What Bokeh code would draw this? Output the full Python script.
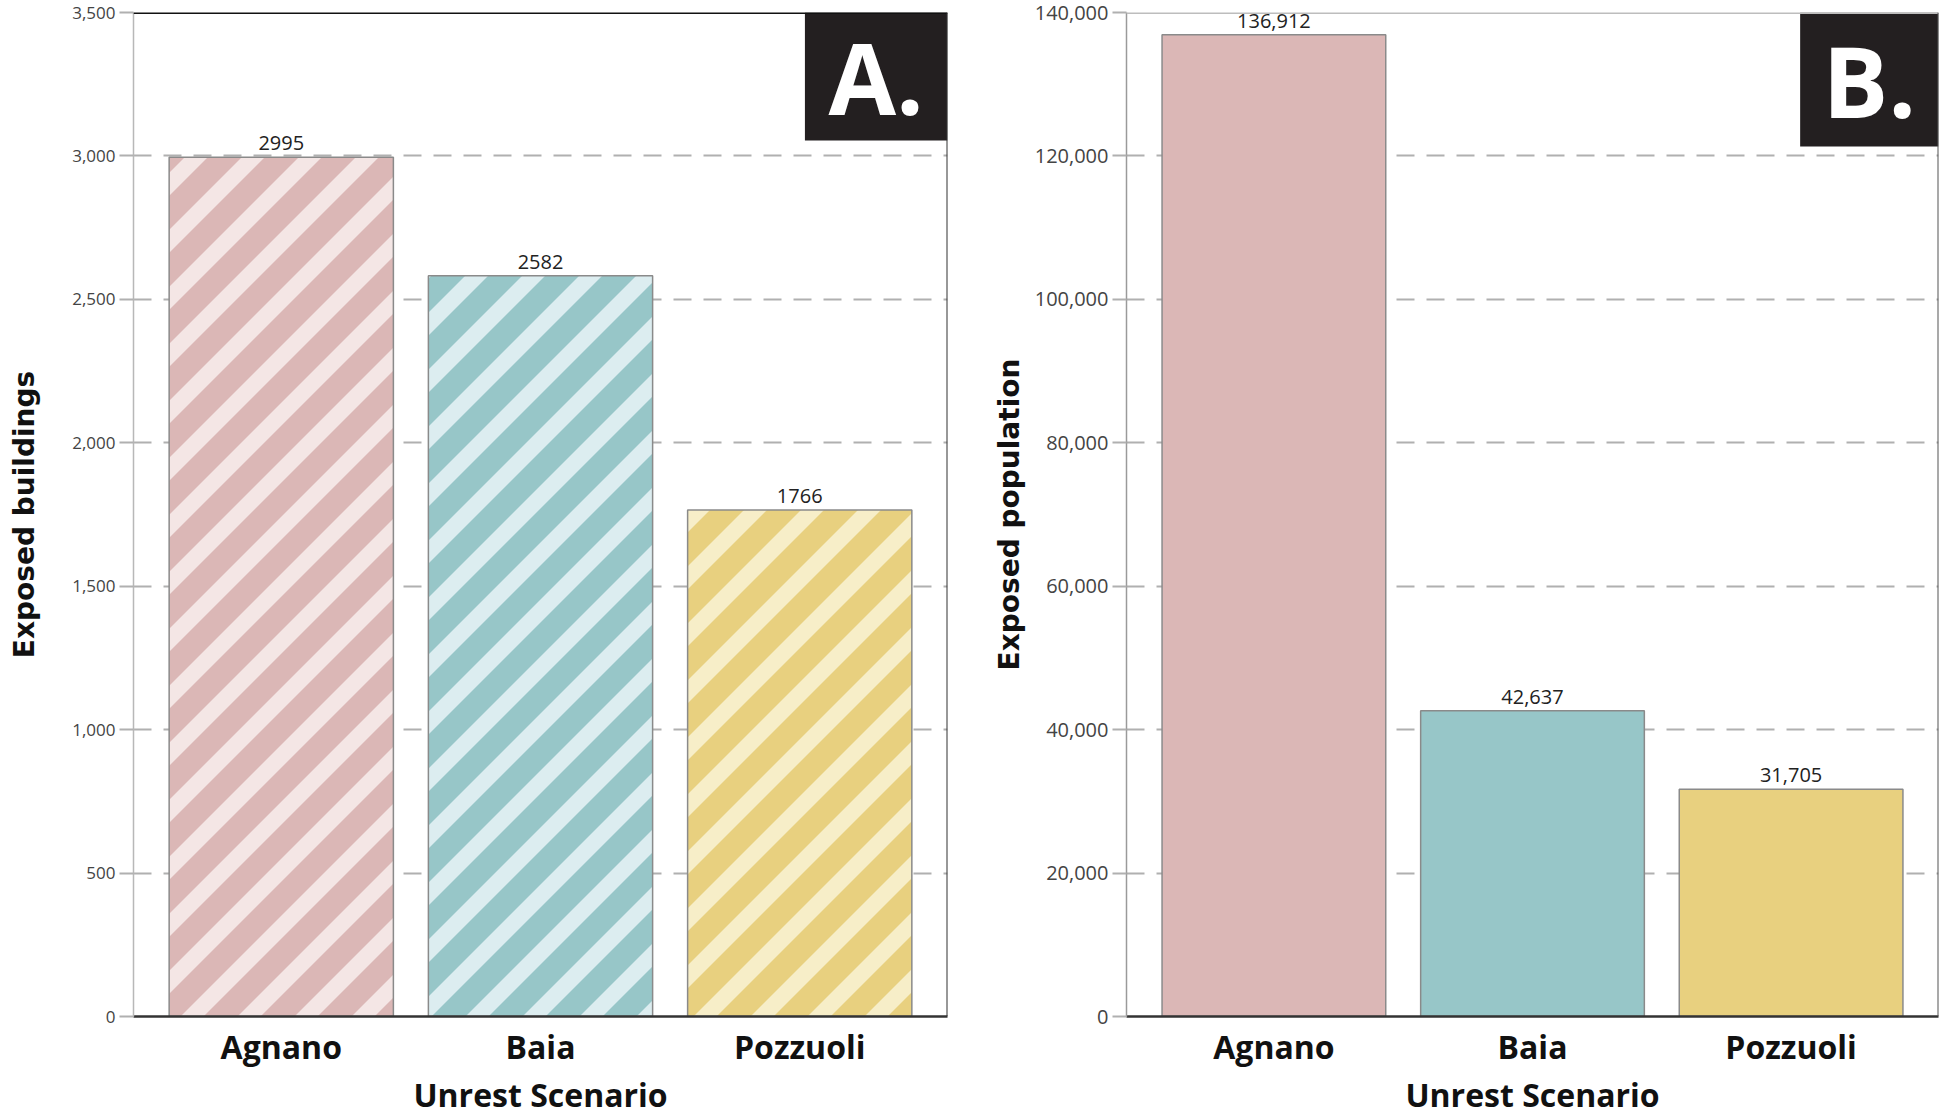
import base64
from bokeh.plotting import figure
from bokeh.models import (ColumnDataSource, FactorRange, Range1d, FixedTicker,
                          NumeralTickFormatter, Span, ImageURLTexture)
from bokeh.layouts import row
from bokeh.embed import file_html
from bokeh.resources import INLINE
from bokeh.core.properties import value

# ---- data ----
scenarios = ["Agnano", "Baia", "Pozzuoli"]
buildings = [2995, 2582, 1766]
population = [136912, 42637, 31705]
building_ticks = [0, 500, 1000, 1500, 2000, 2500, 3000, 3500]
population_ticks = [0, 20000, 40000, 60000, 80000, 100000, 120000, 140000]
building_labels = [str(v) for v in buildings]
population_labels = [f"{v:,}" for v in population]

bar_colors = ["#dbb7b6", "#97c6c8", "#e8d07f"]
stripe_colors = ["#f4e6e5", "#dcedf0", "#f7eec8"]
pattern_names = ["stripe_pink", "stripe_teal", "stripe_yellow"]

PAD = 0.07  # factor padding on each side


def stripe_texture(base, stripe):
    svg = ('<svg xmlns="http://www.w3.org/2000/svg" width="57" height="57">'
           f'<rect width="57" height="57" fill="{base}"/>'
           f'<polygon points="0,0 23,0 0,23" fill="{stripe}"/>'
           f'<polygon points="57,0 57,23 23,57 0,57" fill="{stripe}"/>'
           '</svg>')
    url = "data:image/svg+xml;base64," + base64.b64encode(svg.encode()).decode()
    return ImageURLTexture(url=url)


def make_panel(vals, labels, ticks, ytitle, letter, hatched, width,
               min_left, min_right, box_w, box_h_frac, tick_font,
               top_color, right_color, yaxis_color, title_standoff):
    ymax = ticks[-1]
    xr = FactorRange(factors=scenarios, range_padding=PAD,
                     range_padding_units="absolute")
    p = figure(x_range=xr, y_range=Range1d(0, ymax), width=width, height=1118,
               output_backend="svg", toolbar_location=None,
               min_border_left=min_left, min_border_right=min_right,
               min_border_top=12, min_border_bottom=102)
    p.outline_line_color = None
    p.background_fill_color = "white"

    src = ColumnDataSource(dict(x=scenarios, top=vals, fill=bar_colors,
                                stripe=stripe_colors, label=labels,
                                pat=pattern_names))
    kw = dict(x="x", top="top", width=0.865, bottom=0, source=src,
              fill_color="fill", line_color="#8a8a8a", line_width=1.5)
    if hatched:
        kw.update(hatch_pattern="pat",
                  hatch_extra={n: stripe_texture(b, s) for n, b, s in
                               zip(pattern_names, bar_colors, stripe_colors)})
    p.vbar(**kw)

    p.text(x="x", y="top", text="label", source=src, text_align="center",
           text_baseline="bottom", y_offset=-7,
           text_font=value("Open Sans"), text_font_size="20px",
           text_color="#222222")

    # corner letter box
    x_end = len(scenarios) + PAD
    box_left = x_end - box_w
    box_bottom = ymax * (1 - box_h_frac)
    p.quad(left=[box_left], right=[x_end], bottom=[box_bottom],
           top=[ymax], fill_color="#231f20", line_color=None)
    p.text(x=[(box_left + x_end) / 2], y=[(box_bottom + ymax) / 2],
           text=[letter], text_align="center", text_baseline="middle",
           text_font=value("Open Sans"), text_font_style="bold",
           text_font_size="98px", text_color="white")

    # frame lines top/right
    p.add_layout(Span(location=ymax, dimension="width", line_color=top_color,
                      line_width=3))
    p.add_layout(Span(location=x_end, dimension="height",
                      line_color=right_color, line_width=2))

    # grid
    p.xgrid.grid_line_color = None
    p.ygrid.ticker = FixedTicker(ticks=ticks)
    p.ygrid.grid_line_color = "#b0b0b0"
    p.ygrid.grid_line_width = 2
    p.ygrid.grid_line_dash = "18 12"

    # y axis
    ya = p.yaxis[0]
    ya.ticker = FixedTicker(ticks=ticks)
    ya.formatter = NumeralTickFormatter(format="0,0")
    ya.axis_line_color = yaxis_color
    ya.axis_line_width = 1.5
    ya.major_tick_line_color = "#b0b0b0"
    ya.major_tick_line_width = 2
    ya.major_tick_out = 14
    ya.major_tick_in = 0
    ya.minor_tick_line_color = None
    ya.major_label_standoff = 4
    ya.major_label_text_font = "Open Sans"
    ya.major_label_text_font_size = tick_font
    ya.major_label_text_color = "#444444"
    ya.axis_label = ytitle
    ya.axis_label_text_font = "DejaVu Sans"
    ya.axis_label_text_font_style = "bold"
    ya.axis_label_text_font_size = "28px"
    ya.axis_label_text_color = "#111111"
    ya.axis_label_standoff = title_standoff

    # x axis
    xa = p.xaxis[0]
    xa.axis_line_color = "#333333"
    xa.axis_line_width = 2.5
    xa.major_tick_line_color = None
    xa.major_tick_out = 0
    xa.major_tick_in = 0
    xa.minor_tick_line_color = None
    xa.major_label_standoff = 8
    xa.major_label_text_font = "Open Sans"
    xa.major_label_text_font_style = "bold"
    xa.major_label_text_font_size = "32px"
    xa.major_label_text_color = "#111111"
    xa.axis_label = "Unrest Scenario"
    xa.axis_label_text_font = "Open Sans"
    xa.axis_label_text_font_style = "bold"
    xa.axis_label_text_font_size = "32px"
    xa.axis_label_text_color = "#111111"
    xa.axis_label_standoff = 2
    return p


pA = make_panel(buildings, building_labels, building_ticks, "Exposed buildings",
                "A.", True, 983, 133, 36, 0.55, 0.1275, "17px",
                "#111111", "#333333", "#b8b8b8", 28)
pB = make_panel(population, population_labels, population_ticks,
                "Exposed population", "B.", False, 957, 143, 2, 0.535, 0.1335,
                "20px", "#bdbdbd", "#555555", "#9a9a9a", 6)

layout = row(pA, pB)
open("out.html", "w").write(file_html(layout, INLINE))
